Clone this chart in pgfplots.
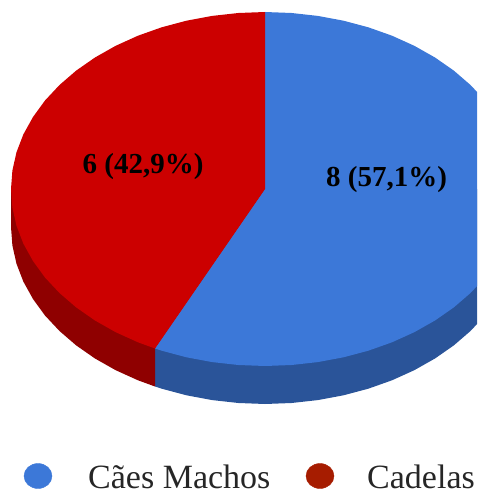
\documentclass[border=0pt]{standalone}
\usepackage{fontspec}
\setmainfont{Liberation Serif}
\usepackage{pgfplots}
\pgfplotsset{compat=1.18}
\definecolor{machos}{HTML}{3C78D8}
\definecolor{machosside}{HTML}{2A5499}
\definecolor{cadelas}{HTML}{CC0000}
\definecolor{cadelasside}{HTML}{8F0000}
\definecolor{legcadelas}{HTML}{A61C00}
\begin{document}
\begin{tikzpicture}
\begin{axis}[
    hide axis, scale only axis, width=477pt, height=492pt,
    xmin=0, xmax=477, ymin=0, ymax=492, y dir=reverse,
    clip=true,
  ]
  % sides (depth 38)
  \addplot[fill=machosside, draw=none] coordinates {
    (519,189) (519,227) (517.6,245.5) (513.5,263.8) (506.6,281.7) (497,299) (485,315.5)
    (470.5,331) (453.8,345.4) (435,358.5) (414.3,370.2) (392,380.3) (368.3,388.7)
    (343.5,395.3) (317.8,400.1) (291.6,403) (265,404) (238.5,403) (212.2,400.1)
    (186.5,395.3) (161.7,388.7) (155,386.5) (155,348.5) (265,189)
  } -- cycle;
  \addplot[fill=cadelasside, draw=none] coordinates {
    (155,348.5) (155,386.5) (138,380.3) (115.7,370.2) (95,358.5) (76.2,345.4) (59.5,331)
    (45,315.5) (33,299) (23.4,281.7) (16.5,263.8) (12.4,245.5) (11,227) (11,189) (265,189)
  } -- cycle;
  % Caes Machos 57,1%
  \addplot[fill=machos, draw=none] coordinates {
    (265,189) (265,12) (291.6,13) (317.8,15.9) (343.5,20.7) (368.3,27.3) (392,35.7)
    (414.3,45.8) (435,57.5) (453.8,70.6) (470.5,85) (485,100.5) (497,117) (506.6,134.3)
    (513.5,152.2) (517.6,170.5) (519,189) (517.6,207.5) (513.5,225.8) (506.6,243.7)
    (497,261) (485,277.5) (470.5,293) (453.8,307.4) (435,320.5) (414.3,332.2) (392,342.3)
    (368.3,350.7) (343.5,357.3) (317.8,362.1) (291.6,365) (265,366) (238.5,365)
    (212.2,362.1) (186.5,357.3) (161.7,350.7) (155,348.5)
  } -- cycle;
  % Cadelas 42,9%
  \addplot[fill=cadelas, draw=none] coordinates {
    (265,189) (155,348.5) (138,342.3) (115.7,332.2) (95,320.5) (76.2,307.4) (59.5,293)
    (45,277.5) (33,261) (23.4,243.7) (16.5,225.8) (12.4,207.5) (11,189) (12.4,170.5)
    (16.5,152.2) (23.4,134.3) (33,117) (45,100.5) (59.5,85) (76.2,70.6) (95,57.5)
    (115.7,45.8) (138,35.7) (161.7,27.3) (186.5,20.7) (212.2,15.9) (238.4,13) (265,12)
  } -- cycle;
  % legend
  \addplot[only marks, mark=*, mark size=12.5pt, mark options={xscale=1.12, fill=machos, draw=machos}]
    coordinates {(38,476)};
  \addplot[only marks, mark=*, mark size=12.5pt, mark options={xscale=1.12, fill=legcadelas, draw=legcadelas}]
    coordinates {(320,476)};
  \node[anchor=base, font=\fontsize{29}{29}\selectfont\bfseries, text=black] at (axis cs:386.5,186) {8 (57,1\%)};
  \node[anchor=base, font=\fontsize{29}{29}\selectfont\bfseries, text=black] at (axis cs:143,173) {6 (42,9\%)};
  \node[anchor=base west, inner sep=0pt, font=\fontsize{34}{34}\selectfont, text=black!85] at (axis cs:88,488) {Cães Machos};
  \node[anchor=base west, inner sep=0pt, font=\fontsize{34}{34}\selectfont, text=black!85] at (axis cs:367,488) {Cadelas};
\end{axis}
\pgfresetboundingbox
\path[use as bounding box] (current axis.south west) rectangle (current axis.north east);
\end{tikzpicture}
\end{document}
